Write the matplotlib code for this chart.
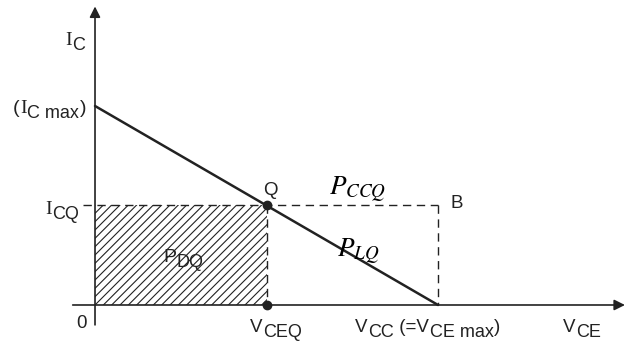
import matplotlib.pyplot as plt

# load line and operating point (normalised units)
vcc = 2.0
ic_max = 2.0
vceq = 1.0
icq = 1.0

load_x = [0.0, vcc]
load_y = [ic_max, 0.0]

col = '#222222'
plt.rcParams['hatch.linewidth'] = 0.8

fig = plt.figure(figsize=(6.27, 3.44), dpi=100)
ax = fig.add_axes([0, 0, 1, 1])
ax.set_xlim(-0.554, 3.102)
ax.set_ylim(-0.392, 3.065)
ax.axis('off')


def label(x, y, parts, size=13.5, sub=13, drop=3.5):
    # parts: (text, is_subscript[, family]); baselines lined up with the first piece
    first = prev = None
    for p in parts:
        s, is_sub = p[0], p[1]
        fam = p[2] if len(p) > 2 else 'Liberation Sans'
        fs = sub if is_sub else size
        if first is None:
            first = prev = ax.text(x, y, s, fontsize=fs, family=fam, color=col,
                                   ha='left', va='baseline')
            continue
        prev = ax.annotate(s, xy=(1, 0), xycoords=(prev, first),
                           xytext=(0.4, -drop if is_sub else 0), textcoords='offset points',
                           fontsize=fs, family=fam, color=col, ha='left', va='bottom')
    return first


# axes with arrows
ax.annotate('', xy=(3.09, 0), xytext=(-0.13, 0),
            arrowprops=dict(arrowstyle='-|>', color=col, lw=1.2,
                            mutation_scale=16, shrinkA=0, shrinkB=0))
ax.annotate('', xy=(0, 3.0), xytext=(0, -0.2),
            arrowprops=dict(arrowstyle='-|>', color=col, lw=1.2,
                            mutation_scale=16, shrinkA=0, shrinkB=0))

# hatched P_DQ area
ax.fill_between([0, vceq], 0, icq, facecolor='none', edgecolor=col,
                hatch='////', lw=0)

# load line
ax.plot(load_x, load_y, color=col, lw=1.8, solid_capstyle='round')

# dashed lines
dash = dict(color=col, lw=1.0, dashes=(6, 4))
ax.plot([-0.07, vcc], [icq, icq], **dash)
ax.plot([vcc, vcc], [icq, 0], **dash)
ax.plot([vceq, vceq], [icq, 0], **dash)

# points
ax.plot([vceq, vceq], [icq, 0], 'o', color=col, ms=6)

serif = 'Liberation Serif'
label(-0.175, 2.613, [('I', False, serif), ('C', True)], size=14)
label(-0.478, 1.930, [('(', False), ('I', False, serif), ('C max', True), (')', False)], size=14)
label(-0.292, 0.915, [('I', False, serif), ('CQ', True)], size=14)
label(-0.111, -0.231, [('0', False)])
label(0.904, -0.271, [('V', False), ('CEQ', True)])
label(1.516, -0.271, [('V', False), ('CC', True), (' (=V', False), ('CE max', True), (')', False)])
label(2.729, -0.271, [('V', False), ('CE', True)])
label(0.980, 1.106, [('Q', False)])
label(2.070, 0.975, [('B', False)])
label(0.397, 0.432, [('P', False), ('DQ', True)], size=14)

ax.text(1.364, 1.106, r'$P_{CCQ}$', fontsize=19.5, ha='left', va='baseline',
        math_fontfamily='stix', color='black')
ax.text(1.411, 0.482, r'$P_{LQ}$', fontsize=19.5, ha='left', va='baseline',
        math_fontfamily='stix', color='black')

fig.savefig('out.png', dpi=100)
